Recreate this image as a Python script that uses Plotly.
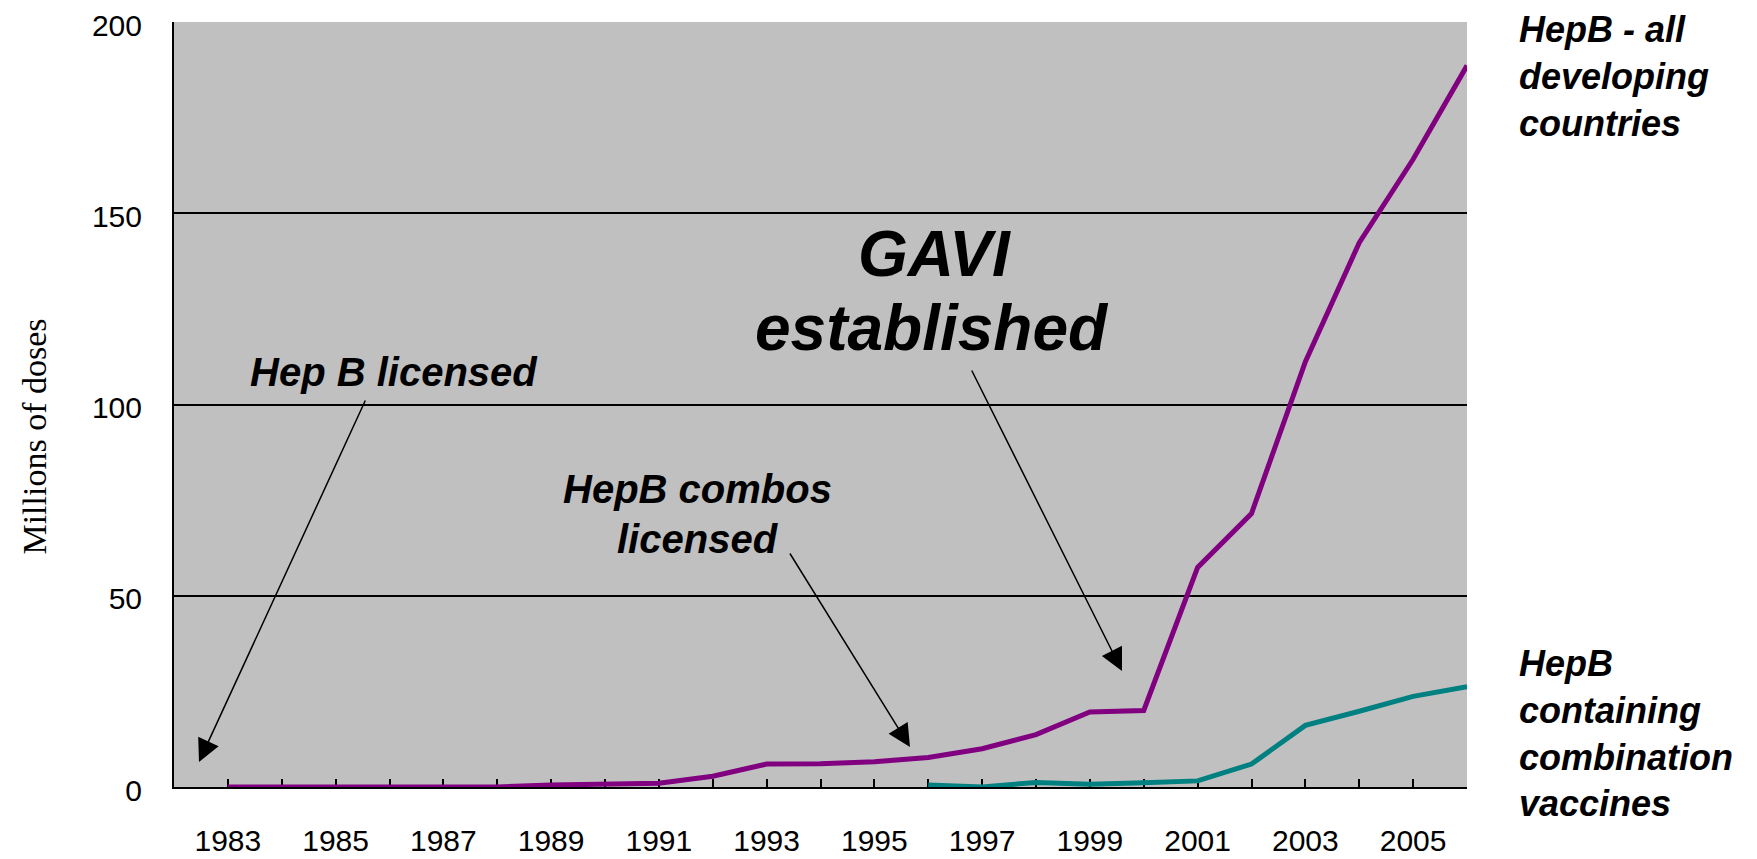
import plotly.graph_objects as go

# ---- data ----
years = list(range(1983, 2007))
hepb_all = [0, 0, 0, 0, 0, 0, 0.5, 0.9, 1.0, 2.8, 6.0, 6.1, 6.6, 7.7, 10.0, 13.7,
            19.6, 20.0, 57.4, 71.5, 111.2, 142.3, 164.1, 188.6]
combo_years = list(range(1996, 2007))
hepb_combo = [0.5, 0.0, 1.2, 0.7, 1.1, 1.6, 6.0, 16.1, 19.8, 23.7, 26.2]
tick_years = list(range(1983, 2007))
tick_text = [str(y) if y % 2 == 1 else "" for y in tick_years]
y_ticks = [0, 50, 100, 150, 200]

# ---- layout geometry (page pixels; the page body adds an 8px margin) ----
OFF = 8
W, H = 1757 - OFF, 859 - OFF
L, R, T, B = 174, 1467, 22, 787  # plot area in page pixels


def px(x):
    return (x - L) / (R - L)


def py(y):
    return (B - y) / (B - T)


SANS = "Liberation Sans, Arial, sans-serif"
SERIF = "Liberation Serif, Times New Roman, serif"

fig = go.Figure()
fig.add_trace(go.Scatter(x=years, y=hepb_all, mode="lines",
                         line=dict(color="#800080", width=5),
                         cliponaxis=False, showlegend=False))
fig.add_trace(go.Scatter(x=combo_years, y=hepb_combo, mode="lines",
                         line=dict(color="#008080", width=5),
                         cliponaxis=False, showlegend=False))

fig.update_layout(
    width=W, height=H,
    margin=dict(l=L - OFF, r=W - (R - OFF), t=T - OFF, b=H - (B - OFF), pad=0),
    paper_bgcolor="white",
    plot_bgcolor="#C0C0C0",
    font=dict(family=SANS, color="black"),
    xaxis=dict(range=[1982, 2006], tickmode="array", tickvals=tick_years,
               ticktext=tick_text, ticks="inside", ticklen=8, tickwidth=1.5,
               tickcolor="black", showgrid=False, zeroline=False,
               showline=True, linecolor="black", linewidth=2,
               tickfont=dict(size=30, family=SANS), ticklabelstandoff=26,
               ticklabeloverflow="allow",
               layer="below traces", automargin=False),
    yaxis=dict(range=[0, 200], tickmode="array", tickvals=y_ticks,
               ticks="inside", ticklen=8, tickwidth=1.5, tickcolor="black",
               showgrid=True, gridcolor="black", gridwidth=1.5,
               zeroline=False, showline=True, linecolor="black", linewidth=2,
               tickfont=dict(size=30, family=SANS), ticklabelstandoff=24,
               ticklabelshift=3, ticklabeloverflow="allow",
               layer="below traces", automargin=False),
)

ann = []
# y axis title
ann.append(dict(text="Millions of doses", xref="paper", yref="paper",
                x=px(33.6), y=py(437), textangle=-90, showarrow=False,
                xanchor="center", yanchor="middle",
                font=dict(family=SERIF, size=34, color="black")))

bi = dict(family=SANS, color="black")


def label(text, x, y, size, xanchor="center", align="center"):
    ann.append(dict(text="<b><i>" + text + "</i></b>", xref="paper", yref="paper",
                    x=px(x), y=py(y), showarrow=False, xanchor=xanchor,
                    yanchor="middle", align=align,
                    font=dict(size=size, **bi)))


label("GAVI", 934, 253.5, 64)
label("established", 932, 328, 64)
label("Hep B licensed", 393.5, 371.5, 40)
label("HepB combos", 697.5, 489, 40)
label("licensed", 697.5, 539, 40)
label("HepB - all<br>developing<br>countries", 1517, 77, 36, xanchor="left", align="left")
label("HepB<br>containing<br>combination<br>vaccines", 1517, 733.6, 36, xanchor="left", align="left")


def arrow(tail, head):
    ann.append(dict(text="", xref="paper", yref="paper", axref="pixel", ayref="pixel",
                    x=px(head[0]), y=py(head[1]),
                    ax=tail[0] - head[0], ay=tail[1] - head[1],
                    showarrow=True, arrowhead=2, arrowsize=3, arrowwidth=1.5,
                    arrowcolor="black", standoff=0, startstandoff=0))


arrow((366, 399), (199, 762))
arrow((789, 552), (910, 747))
arrow((971, 369), (1122, 671))

fig.update_layout(annotations=ann)
fig.write_html("out.html")
